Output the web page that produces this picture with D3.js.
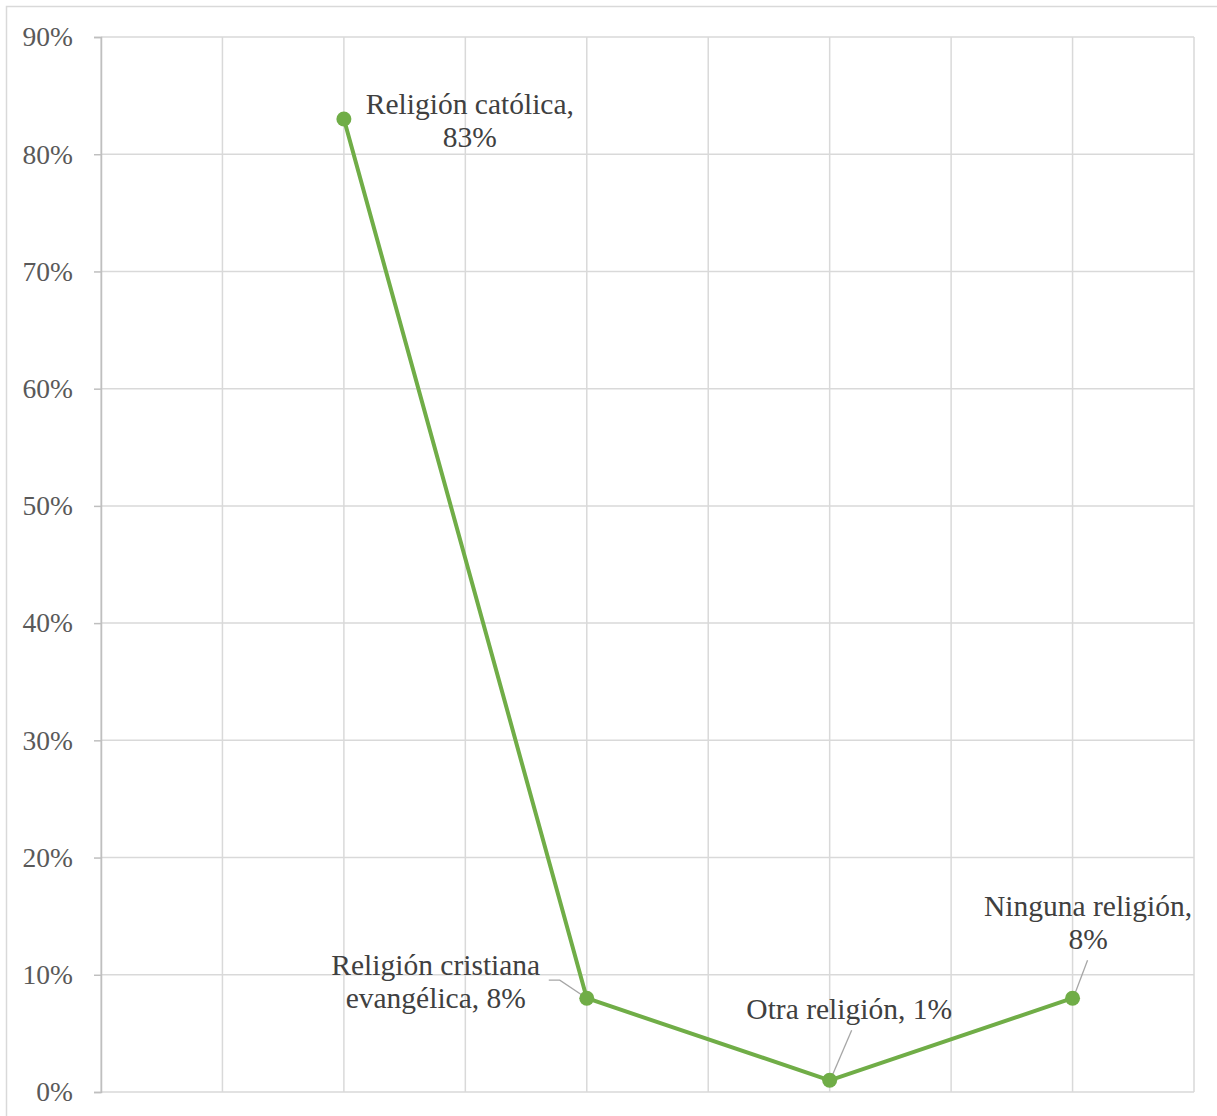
<!DOCTYPE html>
<html>
<head>
<meta charset="utf-8">
<script src="https://cdn.jsdelivr.net/npm/d3@7"></script>
<style>
  html, body { margin: 0; padding: 0; background: #fff; }
  svg { display: block; }
</style>
</head>
<body>
<svg id="chart" width="1217" height="1116"></svg>
<script>
// Religious affiliation shares
const categories = ["Religión católica", "Religión cristiana evangélica", "Otra religión", "Ninguna religión"];
const xValues = [2, 4, 6, 8];
const values = [0.83, 0.08, 0.01, 0.08];
const yTicks = [0, 0.1, 0.2, 0.3, 0.4, 0.5, 0.6, 0.7, 0.8, 0.9];
const xTicks = [0, 1, 2, 3, 4, 5, 6, 7, 8, 9];

// Data label layout: lines of text, centre offset from the point, optional leader path
const labelLayout = [
  { lines: ["Religión católica,", "83%"], dx: 126, dy: 1, leader: null },
  { lines: ["Religión cristiana", "evangélica, 8%"], dx: -151, dy: -17.5, leader: [[-38, -18], [-27, -18], [0, 0]] },
  { lines: ["Otra religión, 1%"], dx: 19.5, dy: -72, leader: [[22, -50], [1, -1]] },
  { lines: ["Ninguna religión,", "8%"], dx: 15.5, dy: -76.5, leader: [[15, -38], [1, -1]] }
];

const svg = d3.select("#chart");
const font = "'Liberation Serif', 'Times New Roman', serif";

// Outer chart frame
svg.append("rect")
  .attr("x", 6.5).attr("y", 6.5)
  .attr("width", 1300).attr("height", 1300)
  .attr("fill", "none").attr("stroke", "#d9d9d9").attr("stroke-width", 1.5);

const x = d3.scaleLinear().domain([0, 9]).range([101, 1194]);
const y = d3.scaleLinear().domain([0, 0.9]).range([1092, 37]);

// Horizontal gridlines
svg.append("g")
  .selectAll("line").data(yTicks).join("line")
  .attr("x1", x(0)).attr("x2", x(9))
  .attr("y1", d => y(d)).attr("y2", d => y(d))
  .attr("stroke", "#d9d9d9").attr("stroke-width", 1.5);

// Vertical gridlines
svg.append("g")
  .selectAll("line").data(xTicks).join("line")
  .attr("x1", d => x(d)).attr("x2", d => x(d))
  .attr("y1", y(0.9)).attr("y2", y(0))
  .attr("stroke", "#d9d9d9").attr("stroke-width", 1.5);

// Y axis with percentage labels
const yAxis = d3.axisLeft(y)
  .tickValues(yTicks)
  .tickFormat(d3.format(".0%"))
  .tickSize(7)
  .tickPadding(21);
const yg = svg.append("g").attr("transform", `translate(${x(0)},0)`).call(yAxis);
yg.select(".domain").attr("stroke", "#bfbfbf").attr("stroke-width", 1.5);
yg.selectAll(".tick line").attr("stroke", "#bfbfbf").attr("stroke-width", 1.5);
yg.selectAll(".tick text")
  .attr("fill", "#595959")
  .style("font-family", font)
  .style("font-size", "27.5px");

const pts = categories.map((c, i) => ({ name: c, x: xValues[i], v: values[i] }));

// Series line
svg.append("path")
  .datum(pts)
  .attr("fill", "none")
  .attr("stroke", "#70ad47")
  .attr("stroke-width", 4)
  .attr("stroke-linejoin", "round")
  .attr("d", d3.line().x(d => x(d.x)).y(d => y(d.v)));

// Leader lines
pts.forEach((p, i) => {
  const L = labelLayout[i];
  if (!L.leader) return;
  const px = x(p.x), py = y(p.v);
  svg.append("path")
    .attr("fill", "none")
    .attr("stroke", "#a6a6a6")
    .attr("stroke-width", 1.3)
    .attr("d", d3.line()(L.leader.map(([dx, dy]) => [px + dx, py + dy])));
});

// Markers
svg.append("g")
  .selectAll("circle").data(pts).join("circle")
  .attr("cx", d => x(d.x)).attr("cy", d => y(d.v))
  .attr("r", 7.5)
  .attr("fill", "#70ad47");

// Data labels
pts.forEach((p, i) => {
  const L = labelLayout[i];
  const px = x(p.x) + L.dx, py = y(p.v) + L.dy;
  const lh = 33;
  const n = L.lines.length;
  const t = svg.append("text")
    .attr("text-anchor", "middle")
    .attr("fill", "#404040")
    .style("font-family", font)
    .style("font-size", "29.5px");
  L.lines.forEach((ln, k) => {
    t.append("tspan")
      .attr("x", px)
      .attr("y", py + (k - (n - 1) / 2) * lh)
      .attr("dy", "0.35em")
      .text(ln);
  });
});
</script>
</body>
</html>
